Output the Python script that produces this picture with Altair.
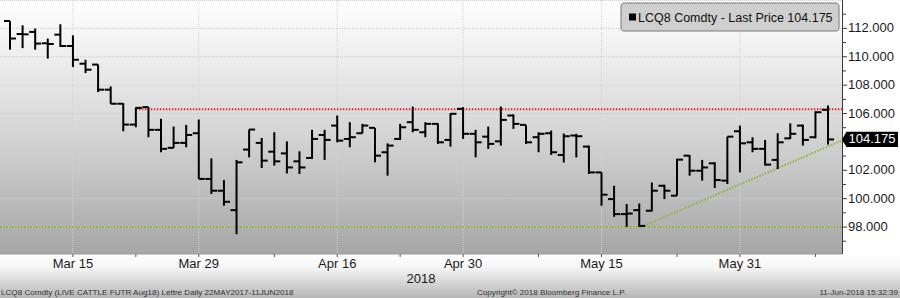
import altair as alt
import pandas as pd

# ---------------- data ----------------
DATES = ["Mar 8", "Mar 9", "Mar 12", "Mar 13", "Mar 14", "Mar 15", "Mar 16", "Mar 19", "Mar 20",
         "Mar 21", "Mar 22", "Mar 23", "Mar 26", "Mar 27", "Mar 28", "Mar 29",
         "Apr 2", "Apr 3", "Apr 4", "Apr 5", "Apr 6", "Apr 9", "Apr 10", "Apr 11", "Apr 12",
         "Apr 13", "Apr 16", "Apr 17", "Apr 18", "Apr 19", "Apr 20", "Apr 23", "Apr 24",
         "Apr 25", "Apr 26", "Apr 27", "Apr 30",
         "May 1", "May 2", "May 3", "May 4", "May 7", "May 8", "May 9", "May 10", "May 11",
         "May 14", "May 15", "May 16", "May 17", "May 18", "May 21", "May 22", "May 23",
         "May 24", "May 25", "May 29", "May 30", "May 31",
         "Jun 1", "Jun 4", "Jun 5", "Jun 6", "Jun 7", "Jun 8", "Jun 11"]

OPEN = [112.52, 111.60, 111.75, 110.95, 111.56, 110.76, 109.51, 109.45, 107.68, 106.69,
        105.22, 106.45, 104.85, 103.58, 103.93, 104.61, 101.39, 100.56, 99.19, 103.46,
        103.93, 103.31, 103.19, 102.63, 102.87, 104.49, 105.15, 104.21, 104.61, 104.99,
        103.27, 104.21, 105.39, 104.68, 105.27, 104.14, 106.33, 104.57, 104.37, 104.04,
        105.86, 105.20, 104.33, 104.61, 103.08, 104.45, 103.67, 101.85, 99.97, 98.91,
        99.19, 99.15, 100.91, 100.21, 103.03, 101.97, 102.49, 101.27, 104.75, 103.97,
        103.51, 102.73, 104.25, 105.15, 104.33, 106.26]
HIGH = [112.52, 112.22, 111.99, 111.28, 112.29, 111.51, 109.79, 109.45, 107.91, 106.73,
        106.45, 106.45, 105.63, 105.08, 105.20, 105.58, 102.84, 101.31, 102.73, 104.87,
        104.28, 104.68, 104.04, 103.34, 104.85, 104.85, 105.86, 105.39, 105.27, 104.99,
        103.90, 105.27, 106.49, 105.39, 105.31, 106.02, 106.45, 104.85, 105.08, 106.49,
        105.93, 105.20, 104.68, 104.80, 104.59, 104.57, 103.74, 101.85, 100.91, 99.62,
        99.66, 101.14, 100.98, 102.80, 103.08, 102.73, 102.56, 104.37, 105.15, 104.33,
        104.14, 104.61, 105.31, 105.22, 106.16, 106.57]
LOW = [110.50, 110.61, 110.50, 109.87, 110.69, 109.27, 108.85, 107.51, 106.69, 104.75,
       105.03, 104.33, 103.27, 103.58, 103.62, 101.39, 100.33, 99.50, 97.50, 102.91,
       102.16, 102.33, 101.78, 101.74, 102.80, 102.73, 103.97, 103.62, 104.61, 102.56,
       101.62, 104.14, 104.68, 104.33, 103.86, 103.67, 104.21, 102.91, 103.51, 103.74,
       104.92, 103.86, 103.27, 103.08, 102.55, 102.91, 101.74, 99.50, 98.72, 98.01,
       98.01, 99.10, 99.97, 100.21, 101.62, 101.27, 100.75, 101.03, 101.85, 103.27,
       102.33, 102.09, 104.21, 103.74, 104.25, 103.81]
CLOSE = [111.28, 111.58, 110.93, 110.90, 110.76, 109.79, 109.09, 107.68, 106.69, 105.22,
         106.40, 104.85, 103.51, 103.93, 104.49, 101.39, 100.56, 99.78, 102.56, 104.87,
         102.68, 102.63, 102.20, 102.20, 104.21, 104.14, 104.09, 104.33, 105.15, 103.03,
         103.74, 105.03, 104.85, 105.27, 103.97, 105.98, 104.57, 103.97, 103.86, 105.55,
         105.27, 103.97, 104.57, 103.27, 104.40, 104.40, 101.85, 100.28, 98.91, 98.95,
         98.08, 100.56, 100.56, 102.75, 101.97, 102.20, 101.31, 104.37, 103.90, 103.51,
         102.40, 103.97, 104.57, 104.14, 106.09, 104.175]

MAJOR_LABELS = ["Mar 15", "Mar 29", "Apr 16", "Apr 30", "May 15", "May 31"]
MINOR_LABELS = ["Mar 22", "Apr 9", "Apr 23", "May 8", "May 23", "Jun 8"]
Y_TICKS = [98, 100, 102, 104, 106, 108, 110, 112]
Y_LABELS = [98, 100, 102, 106, 108, 110, 112]   # 104.000 is hidden behind the last-price tag
Y_MINOR = [97, 99, 101, 103, 105, 107, 109, 111, 113]

LAST = 104.175
RESIST = 106.3
SUPPORT = 98.0
RESIST_START = 10
TREND_IDX = [50.14, 66.11]
TREND_VAL = [98.0, 104.1]

LEGEND_TEXT = f"LCQ8 Comdty - Last Price {LAST:.3f}"
YEAR_TEXT = "2018"
FOOT_LEFT = "LCQ8 Comdty (LIVE CATTLE FUTR  Aug18) Lettre  Daily 22MAY2017-11JUN2018"
FOOT_MID = "Copyright\u00a9 2018 Bloomberg Finance L.P."
FOOT_RIGHT = "11-Jun-2018 15:32:39"

# ---------------- chart ----------------
FONT = "Liberation Sans"
W, H = 842, 254

xs = alt.Scale(domain=[-0.795, 66.11], nice=False, zero=False)
ys = alt.Scale(domain=[96.1, 114.0], nice=False, zero=False)


def X(field):
    return alt.X(field, scale=xs, axis=None)


def Y(field):
    return alt.Y(field, scale=ys, axis=None)


df = pd.DataFrame({"idx": list(range(len(DATES))), "date": DATES,
                   "open": OPEN, "high": HIGH, "low": LOW, "close": CLOSE})
major_idx = [DATES.index(d) for d in MAJOR_LABELS]
minor_idx = [DATES.index(d) for d in MINOR_LABELS]
xlab_df = pd.DataFrame({"i": major_idx, "label": MAJOR_LABELS})
ytick_df = pd.DataFrame({"v": Y_TICKS})
ylab_df = pd.DataFrame({"v": Y_LABELS})

one = pd.DataFrame({"k": [0]})


def grad(stops):
    return alt.LinearGradient(gradient="linear", x1=0, x2=0, y1=0, y2=1,
                              stops=[alt.GradientStop(color=c, offset=o) for o, c in stops])


plot_bg = alt.Chart(one).mark_rect(
    fill=grad([(0, "#ffffff"), (0.45, "#dcdcdc"), (1, "#a6a6a6")])
).encode(x=alt.value(0), x2=alt.value(W), y=alt.value(0), y2=alt.value(H))

strip_bg = alt.Chart(one).mark_rect(
    fill=grad([(0, "#ffffff"), (0.3, "#f6f6f6"), (1, "#b6b6b6")])
).encode(x=alt.value(0), x2=alt.value(900), y=alt.value(H), y2=alt.value(298))

hgrid = alt.Chart(ytick_df).mark_rule(
    color="#cdcdcd", strokeDash=[1, 1], strokeWidth=1
).encode(y=Y("v:Q"), x=alt.value(0), x2=alt.value(W))

vgrid = alt.Chart(xlab_df).mark_rule(
    color="#d2d2d2", strokeDash=[1, 1], strokeWidth=1
).encode(x=X("i:Q"), y=alt.value(0), y2=alt.value(H))

top_line = alt.Chart(one).mark_rule(color="#cdcdcd", strokeDash=[1, 1], strokeWidth=1).encode(
    x=alt.value(0), x2=alt.value(W), y=alt.value(0.5))

support = alt.Chart(one).mark_rule(color="#8fb536", strokeDash=[1.5, 1.5], strokeWidth=2).encode(
    x=alt.value(0), x2=alt.value(W), y=alt.YDatum(SUPPORT, scale=ys, axis=None))

resist = alt.Chart(one).mark_rule(color="#e3242b", strokeDash=[1.5, 1.5], strokeWidth=2).encode(
    x=alt.XDatum(RESIST_START, scale=xs, axis=None), x2=alt.value(W),
    y=alt.YDatum(RESIST, scale=ys, axis=None))

trend = alt.Chart(one).mark_rule(color="#8fb536", strokeDash=[1.5, 1.5], strokeWidth=2).encode(
    x=alt.XDatum(TREND_IDX[0], scale=xs, axis=None), x2=alt.X2Datum(TREND_IDX[1]),
    y=alt.YDatum(TREND_VAL[0], scale=ys, axis=None), y2=alt.Y2Datum(TREND_VAL[1]))

base = alt.Chart(df)
hl = base.mark_rule(color="#000000", strokeWidth=2).encode(
    x=X("idx:Q"), y=Y("low:Q"), y2="high:Q")
op = base.mark_tick(orient="horizontal", size=6, thickness=2, xOffset=-3,
                    color="#000000", opacity=1).encode(x=X("idx:Q"), y=Y("open:Q"))
cl = base.mark_tick(orient="horizontal", size=6, thickness=2, xOffset=3,
                    color="#000000", opacity=1).encode(x=X("idx:Q"), y=Y("close:Q"))

# ---- hand-drawn axes ----
x_domain = alt.Chart(one).mark_rule(color="#9a9a9a", strokeWidth=1).encode(
    x=alt.value(0), x2=alt.value(W), y=alt.value(H))
xticks = alt.Chart(pd.DataFrame({"i": sorted(major_idx + minor_idx)})).mark_rule(
    color="#555555", strokeWidth=1
).encode(x=X("i:Q"), y=alt.value(H), y2=alt.value(H + 3))
xlabels = alt.Chart(xlab_df).mark_text(
    font=FONT, fontSize=13, color="#1a1a1a", align="center", baseline="middle"
).encode(x=X("i:Q"), y=alt.value(263.5), text="label:N")

y_domain = alt.Chart(one).mark_rule(color="#3a3a3a", strokeWidth=1).encode(
    x=alt.value(W + 0.5), y=alt.value(0), y2=alt.value(H))
ymajor = alt.Chart(ytick_df).mark_rule(color="#3a3a3a", strokeWidth=1).encode(
    y=Y("v:Q"), x=alt.value(W), x2=alt.value(W + 5))
yminor = alt.Chart(pd.DataFrame({"v": Y_MINOR})).mark_rule(color="#3a3a3a", strokeWidth=1).encode(
    y=Y("v:Q"), x=alt.value(W), x2=alt.value(W + 4))
ylabels = alt.Chart(ylab_df).mark_text(
    font=FONT, fontSize=13, color="#1a1a1a", align="left", baseline="middle"
).encode(y=Y("v:Q"), x=alt.value(W + 6), text=alt.Text("v:Q", format=".3f"))

lp_box = alt.Chart(one).mark_point(
    shape="M-1,0L-0.84,-0.27L1,-0.27L1,0.27L-0.84,0.27Z", size=3136, filled=True,
    fill="#000000", strokeWidth=0, opacity=1
).encode(x=alt.value(870), y=alt.YDatum(LAST, scale=ys, axis=None))

lp_text = alt.Chart(one).mark_text(
    text=f"{LAST:.3f}", font=FONT, fontSize=13, color="#ffffff", align="center", baseline="middle"
).encode(x=alt.value(872), y=alt.YDatum(LAST, scale=ys, axis=None))

legend_box = alt.Chart(one).mark_rect(
    cornerRadius=3, fill="#cfcfcf", stroke="#7a7a7a", strokeWidth=1
).encode(x=alt.value(621), x2=alt.value(839), y=alt.value(3), y2=alt.value(31))

legend_sq = alt.Chart(one).mark_rect(fill="#000000").encode(
    x=alt.value(629), x2=alt.value(636), y=alt.value(13.5), y2=alt.value(20.5))

legend_txt = alt.Chart(one).mark_text(
    text=LEGEND_TEXT, font=FONT, fontSize=12.5, color="#111111", align="left", baseline="middle"
).encode(x=alt.value(638), y=alt.value(17.5))

year_txt = alt.Chart(one).mark_text(
    text=YEAR_TEXT, font=FONT, fontSize=13, color="#1a1a1a", align="center", baseline="middle"
).encode(x=alt.value(421), y=alt.value(278.5))

FOOT_SIZE = 8.1
foot_l = alt.Chart(one).mark_text(
    text=FOOT_LEFT, font=FONT, fontSize=FOOT_SIZE, color="#333333", align="left", baseline="middle"
).encode(x=alt.value(1), y=alt.value(292.5))
foot_m = alt.Chart(one).mark_text(
    text=FOOT_MID, font=FONT, fontSize=FOOT_SIZE, color="#333333", align="left", baseline="middle"
).encode(x=alt.value(477), y=alt.value(292.5))
foot_r = alt.Chart(one).mark_text(
    text=FOOT_RIGHT, font=FONT, fontSize=FOOT_SIZE, color="#333333", align="right", baseline="middle"
).encode(x=alt.value(898), y=alt.value(292.5))

chart = alt.layer(
    plot_bg, strip_bg, hgrid, vgrid, top_line, support, resist, trend,
    hl, op, cl,
    x_domain, xticks, xlabels, y_domain, ymajor, yminor, ylabels,
    lp_box, lp_text, legend_box, legend_sq, legend_txt,
    year_txt, foot_l, foot_m, foot_r
).properties(
    width=W, height=H,
    autosize=alt.AutoSizeParams(type="none"),
    padding={"left": 0, "top": 0, "right": 58, "bottom": 44},
    background="#ffffff",
).configure_view(stroke=None)

chart.save("out.html", embed_options={"renderer": "svg", "actions": False})
